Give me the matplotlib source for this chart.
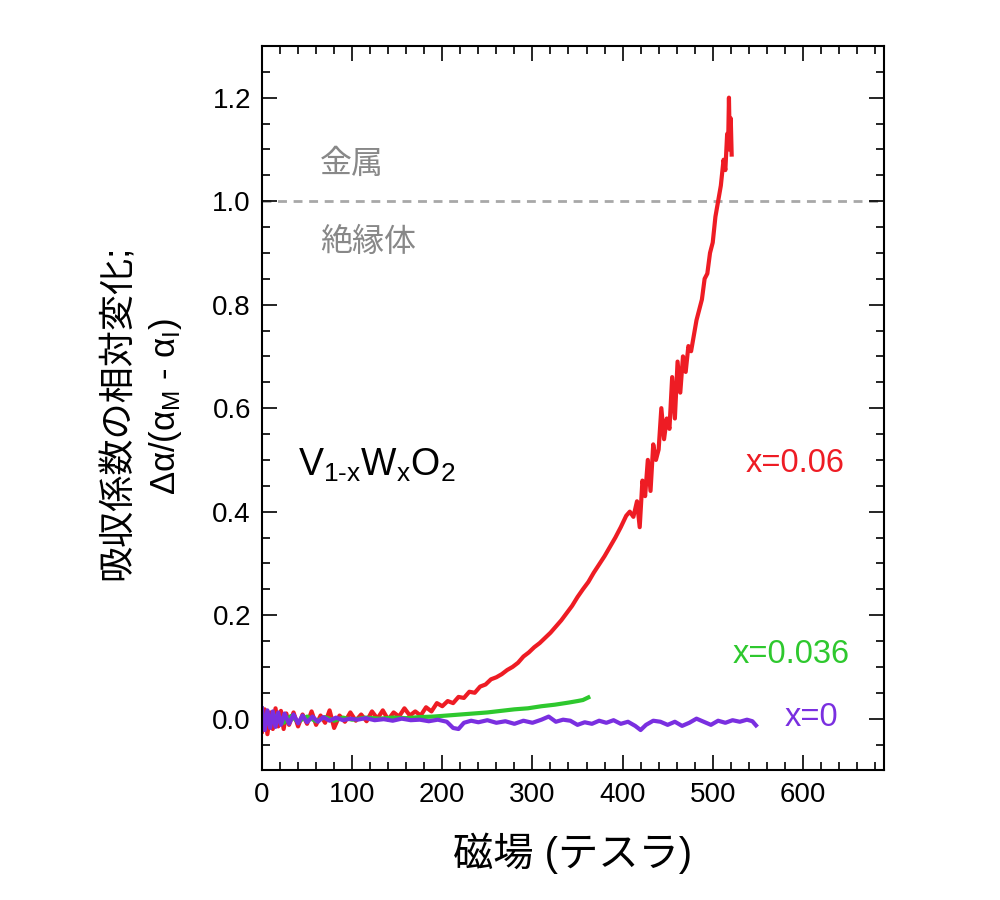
import matplotlib
matplotlib.use("Agg")
import matplotlib.pyplot as plt
from matplotlib.ticker import MultipleLocator

plt.rcParams["font.family"] = ["Liberation Sans", "Noto Sans CJK JP"]
plt.rcParams["mathtext.fontset"] = "custom"
plt.rcParams["mathtext.rm"] = "Liberation Sans"
plt.rcParams["mathtext.it"] = "Liberation Sans:italic"

# ── DATA ────────────────────────────────────────────────────────────
# x = 0.06
red_field = [0, 3, 6, 9, 12, 15, 18, 21, 24, 27, 30, 35, 40, 45, 50, 55, 60, 65, 70,
             75, 80, 86, 92, 98, 104, 110, 116, 122, 128, 134, 140, 146, 152, 158,
             164, 170, 176, 182, 188, 194, 200, 206, 212, 218, 224, 230, 236, 242,
             248, 254, 260, 266, 272, 278, 284, 290, 296, 302, 308, 314, 320, 326,
             332, 338, 344, 350, 356, 362, 368, 374, 380, 386, 392, 398, 404, 408,
             412, 416, 419, 422, 425, 428, 431, 434, 437, 440, 443, 446, 449, 452,
             455, 458, 461, 464, 467, 470, 473, 476, 479, 482, 485, 488, 491, 494,
             497, 500, 503, 506, 509, 512, 514, 516, 517, 518, 519, 520, 521]
red_val = [-0.025, 0.018, -0.03, 0.012, -0.02, 0.02, -0.015, 0.015, -0.02, 0.01,
           -0.012, 0.012, -0.015, 0.008, -0.01, 0.014, -0.012, 0.006, -0.008, 0.016,
           -0.018, 0.006, -0.006, 0.012, -0.004, 0.008, -0.005, 0.014, 0.0, 0.016,
           -0.002, 0.012, 0.004, 0.02, 0.006, 0.014, 0.006, 0.022, 0.014, 0.03, 0.024,
           0.034, 0.03, 0.042, 0.04, 0.052, 0.05, 0.062, 0.066, 0.076, 0.08, 0.086,
           0.094, 0.1, 0.108, 0.12, 0.128, 0.138, 0.146, 0.156, 0.166, 0.178, 0.19,
           0.204, 0.218, 0.235, 0.25, 0.264, 0.282, 0.298, 0.314, 0.332, 0.35, 0.37,
           0.392, 0.4, 0.39, 0.42, 0.37, 0.46, 0.43, 0.5, 0.44, 0.53, 0.5, 0.52,
           0.6, 0.54, 0.58, 0.56, 0.66, 0.58, 0.69, 0.63, 0.7, 0.67, 0.72, 0.71, 0.74,
           0.77, 0.79, 0.81, 0.85, 0.86, 0.9, 0.92, 0.97, 1.0, 1.03, 1.08, 1.06, 1.13,
           1.1, 1.2, 1.1, 1.16, 1.09]

# x = 0.036
green_field = [0, 8, 16, 24, 32, 40, 50, 60, 70, 80, 90, 100, 115, 130, 145, 160,
               175, 190, 205, 220, 235, 250, 265, 280, 295, 310, 325, 340, 350, 356,
               362]
green_val = [0.008, -0.01, 0.006, -0.008, 0.005, -0.006, 0.004, -0.005, 0.003,
             -0.004, 0.002, -0.002, 0.002, 0.0, 0.002, 0.001, 0.003, 0.004, 0.006,
             0.008, 0.01, 0.012, 0.015, 0.018, 0.02, 0.024, 0.027, 0.031, 0.034,
             0.036, 0.041]

# x = 0
purple_field = [0, 3, 6, 9, 12, 15, 18, 21, 25, 30, 35, 40, 45, 50, 56, 62, 68, 75,
                82, 90, 98, 106, 115, 125, 135, 145, 155, 165, 175, 185, 195, 205,
                212, 218, 224, 232, 240, 250, 260, 270, 280, 290, 300, 310, 318, 326,
                334, 342, 350, 358, 366, 374, 382, 390, 398, 406, 414, 420, 426, 434,
                442, 450, 458, 466, 474, 482, 490, 498, 506, 514, 522, 530, 538, 544,
                548]
purple_val = [0.02, -0.022, 0.016, -0.018, 0.014, -0.016, 0.012, -0.012, 0.01,
              -0.01, 0.008, -0.009, 0.006, -0.007, 0.004, -0.006, 0.003, -0.004,
              0.002, -0.003, 0.0, -0.002, 0.001, -0.003, -0.001, -0.004, 0.0, -0.003,
              -0.002, -0.005, -0.002, -0.006, -0.018, -0.02, -0.008, -0.004, -0.007,
              -0.003, -0.008, -0.005, -0.01, -0.004, -0.008, -0.002, 0.004, -0.006,
              -0.002, -0.004, -0.012, -0.007, -0.01, -0.004, -0.008, -0.003, -0.01,
              -0.006, -0.014, -0.022, -0.012, -0.004, -0.006, -0.012, -0.006, -0.014,
              -0.008, 0.0, -0.006, -0.012, -0.004, -0.008, -0.003, -0.006, -0.002,
              -0.005, -0.013]

series_labels = ["x=0.06", "x=0.036", "x=0"]
series_colors = ["#ee1c24", "#2ec82e", "#7a2fe0"]
label_pos = [(591, 0.493), (587, 0.123), (610, 0.002)]
# ────────────────────────────────────────────────────────────────────


def main():
    fig = plt.figure(figsize=(10, 9), dpi=100)
    ax = fig.add_axes([0.262, 0.144, 0.622, 0.805])

    ax.axhline(1.0, color="#a8a8a8", lw=2.0, ls=(0, (3.2, 2.4)), zorder=1)

    data = [(red_field, red_val), (green_field, green_val), (purple_field, purple_val)]
    for (fx, fy), col in zip(data, series_colors):
        ax.plot(fx, fy, color=col, lw=3.0, solid_joinstyle="round", zorder=2)

    for lab, col, (px, py) in zip(series_labels, series_colors, label_pos):
        ax.text(px, py, lab, color=col, fontsize=23.5, ha="center", va="center")

    ax.text(40, 0.49, r"V$_\text{1-x}$W$_\mathregular{x}$O$_\mathregular{2}$",
            fontsize=27, ha="left", va="center")
    ax.text(64, 1.07, "金属", color="#888888", fontsize=23, ha="left", va="center")
    ax.text(64, 0.92, "絶縁体", color="#888888", fontsize=23, ha="left", va="center")

    ax.set_xlim(0, 690)
    ax.set_ylim(-0.1, 1.3)
    ax.xaxis.set_major_locator(MultipleLocator(100))
    ax.xaxis.set_minor_locator(MultipleLocator(20))
    ax.yaxis.set_major_locator(MultipleLocator(0.2))
    ax.yaxis.set_minor_locator(MultipleLocator(0.05))
    ax.yaxis.set_major_formatter(plt.FuncFormatter(lambda v, p: f"{v:.1f}"))
    ax.tick_params(which="both", direction="in", top=True, right=True,
                   width=1.2, labelsize=20)
    ax.tick_params(which="major", length=11, pad=8)
    ax.tick_params(which="minor", length=6)
    for sp in ax.spines.values():
        sp.set_linewidth(1.5)

    ax.set_xlabel("磁場 (テスラ)", fontsize=29, labelpad=18)
    fig.text(0.118, 0.542, "吸収係数の相対変化;", rotation=90, fontsize=26,
             ha="center", va="center")
    fig.text(0.166, 0.548, r"Δα/(α$_\mathregular{M}$ - α$_\mathregular{I}$)",
             rotation=90, fontsize=25, ha="center", va="center")

    fig.savefig("out.png", dpi=100)
    plt.close(fig)


if __name__ == "__main__":
    main()
